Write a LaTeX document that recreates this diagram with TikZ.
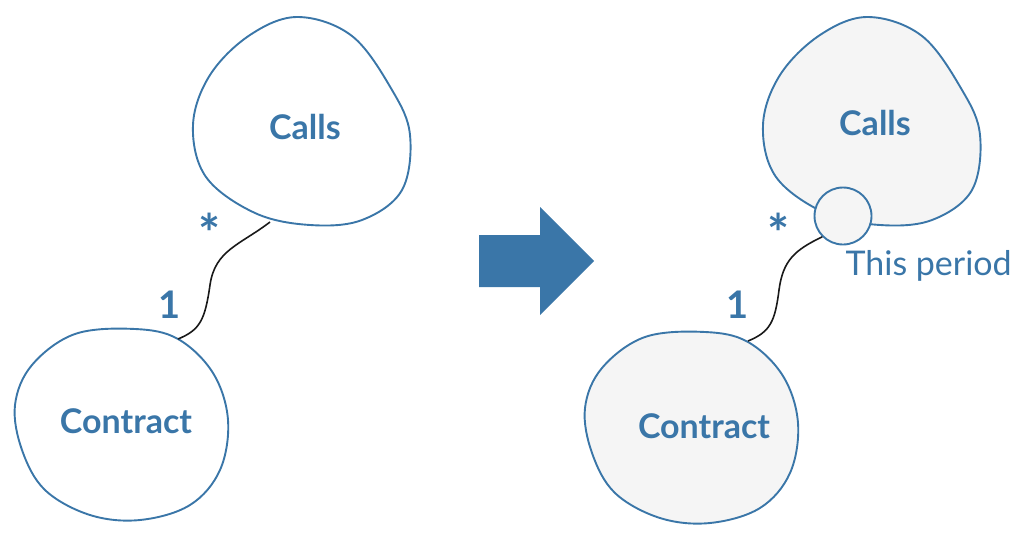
\documentclass[tikz,border=0pt]{standalone}
\usepackage{fontspec}
\setmainfont{Lato}
\definecolor{blu}{HTML}{3A76A8}
\definecolor{fillg}{HTML}{F5F5F5}
\begin{document}
\begin{tikzpicture}[x=1pt,y=-1pt,
  blob/.style={draw=blu,line width=1.9pt},
  lbl/.style={text=blu,font=\bfseries\fontsize{34}{36}\selectfont},
  mult/.style={text=blu,font=\bfseries\fontsize{38}{40}\selectfont},
  star/.style={text=blu,font=\bfseries\fontsize{52}{54}\selectfont},
  conn/.style={draw=black!90,line width=1.6pt}]
\useasboundingbox (0,0) rectangle (1032,543);
\def\callsblob{plot[smooth cycle,tension=0.6] coordinates {(298,17) (352,36) (392,90) (410,135) (402,190) (362,220) (310,225) (255,213) (206,177) (193,125) (210,75) (250,35)}}
\def\contractblob{plot[smooth cycle,tension=0.6] coordinates {(75,334) (135,329) (178,339) (213,373) (228,420) (220,470) (190,505) (140,520) (90,515) (45,490) (22,450) (15,405) (32,365)}}
% left blobs
\draw[blob] \callsblob;
\draw[blob] \contractblob;
% right blobs
\draw[blob,fill=fillg,xshift=570pt] \callsblob;
\draw[blob,fill=fillg,xshift=570pt,yshift=-3pt] \contractblob;
\node[lbl] (c1) at (305,127) {Calls};
\node[lbl] (k1) at (126,421) {Contract};
\node[lbl] (c2) at (875,123) {Calls};
\node[lbl] (k2) at (704,426) {Contract};
% small circle
\node[circle,draw=blu,line width=1.9pt,fill=fillg,minimum size=57pt,inner sep=0pt] (tp) at (843,216) {};
\node[text=blu,font=\fontsize{34}{36}\selectfont,anchor=west] (tpl) at (842,266) {This period};
% connectors
\coordinate (a1) at (270,222);
\coordinate (b1) at (178,339);
\draw[conn] (a1) .. controls (240,245) and (215,250) .. (210,285) .. controls (205,320) and (200,330) .. (b1);
\coordinate (b2) at (748,341);
\draw[conn] (tp.225) .. controls (795,250) and (783,260) .. (779,290) .. controls (775,322) and (770,332) .. (b2);
\node[star] (s1) at (210,233) {*};
\node[mult] (o1) at (170,305) {1};
\node[star] (s2) at (779,233) {*};
\node[mult] (o2) at (738,305) {1};
% big arrow
\fill[blu] (479,235) -- (540,235) -- (540,207) -- (594,261) -- (540,315) -- (540,287) -- (479,287) -- cycle;
\end{tikzpicture}
\end{document}
